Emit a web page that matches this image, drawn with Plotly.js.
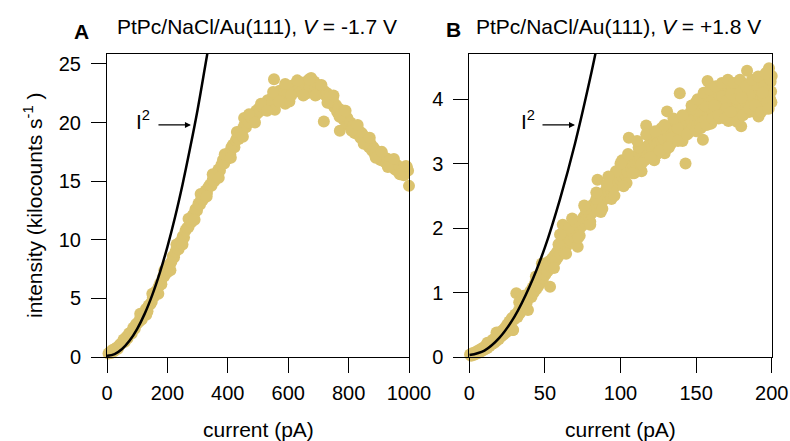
<!DOCTYPE html>
<html>
<head>
<meta charset="utf-8">
<script src="https://cdn.plot.ly/plotly-3.0.1.min.js"></script>
<style>html,body{margin:0;padding:0;background:#fff;}#plot{width:790px;height:441px;}</style>
</head>
<body>
<div id="plot"></div>
<script>
// Panel A: current (pA) vs intensity (kilocounts/s)
const currentA = [5,9,14,18,23,27,32,36,41,45,50,55,59,64,68,73,78,82,87,92,96,101,106,110,115,120,124,129,134,138,143,148,152,157,162,166,171,176,180,185,190,194,199,204,208,213,218,222,227,232,237,241,246,251,255,260,265,270,274,279,284,289,293,298,303,308,312,317,322,327,331,336,341,346,350,355,360,365,369,374,379,384,388,393,398,403,408,412,417,422,427,431,436,441,446,450,454,455,460,465,470,474,479,484,489,494,498,503,508,513,518,522,527,532,537,542,546,551,553,556,561,566,570,575,580,585,590,594,599,604,609,614,618,623,628,633,638,642,647,652,657,662,666,671,676,681,686,690,695,700,705,710,714,718,719,724,729,734,738,743,748,753,758,762,767,771,772,777,782,786,791,796,801,806,810,815,820,825,830,834,839,844,849,854,858,863,868,873,878,882,887,892,897,902,906,911,916,921,926,930,935,940,945,950,954,959,964,969,974,978,983,988,993,997,1000,1003,
110,130,150,170,190,210,230,250,270,290,310,330,350,370,390,410,430,450,470,490,510,530,550,570,590,610,630,650,670,690,710,730,750,770,790,810,830,850,870,890,910,930,950,970,990];
const intensityA = [0.3,0.4,0.35,0.6,0.5,0.7,0.8,0.7,1.0,1.1,1.2,1.5,1.3,1.7,1.6,2.0,2.1,2.0,2.5,2.4,2.8,2.9,3.0,3.3,3.2,3.7,3.6,4.1,3.9,4.4,4.5,4.7,5.1,5.2,5.6,5.5,6.0,6.3,6.2,6.8,6.9,7.3,7.2,7.8,7.9,8.1,8.6,8.5,9.0,9.3,9.2,9.8,9.9,10.3,10.2,10.8,11.0,11.1,11.6,11.5,12.1,12.2,12.6,12.5,13.1,13.0,13.5,13.4,14.0,14.2,14.0,14.5,14.7,14.6,15.1,15.0,15.6,15.5,16.0,15.9,16.4,16.8,16.5,17.1,16.9,17.4,17.3,17.9,18.1,17.9,18.5,18.7,18.6,19.2,19.0,19.5,20.4,19.8,19.6,20.2,20.0,20.5,20.4,20.7,20.5,21.0,20.8,21.2,21.0,21.4,21.3,21.6,21.1,21.9,21.5,22.0,21.7,22.3,23.7,21.1,22.4,22.1,22.7,22.2,22.8,22.5,21.6,23.0,22.6,21.8,23.1,22.7,23.2,22.8,23.3,22.9,23.1,22.6,23.4,22.9,23.2,22.5,23.6,23.0,23.8,22.7,23.5,23.0,22.4,23.2,22.8,23.0,22.5,20.1,22.7,22.3,22.5,22.0,22.2,21.6,21.9,21.3,21.5,20.9,21.2,19.3,20.6,20.9,20.3,21.0,20.0,20.4,19.8,20.0,19.5,19.7,19.1,19.4,19.0,19.3,18.7,19.1,18.5,18.8,18.2,18.5,17.9,18.2,17.6,17.9,17.3,17.6,17.0,17.2,16.8,17.1,16.7,17.0,16.5,16.9,16.4,16.8,16.2,16.6,16.0,16.4,15.8,16.2,15.6,16.0,15.5,16.0,16.2,15.9,14.6,13.8,
3.7,3.6,5.4,5.4,7.4,7.4,9.6,9.6,11.8,11.7,13.9,13.7,15.6,15.3,17.3,17.0,19.2,18.8,20.7,20.0,21.6,21.0,22.6,21.8,23.3,22.3,23.6,22.3,23.7,22.3,23.2,21.7,22.3,20.5,21.0,19.3,19.8,18.2,18.7,17.0,17.5,16.2,16.9,15.6,16.3];
// I^2 guide curve, panel A
const fitCurrentA = [0,25,50,75,100,125,150,175,200,225,250,275,300,325,345];
const fitIntensityA = [0.1,0.25,0.68,1.4,2.4,3.7,5.3,7.2,9.4,11.9,14.7,17.8,21.1,24.8,27.8];

// Panel B
const currentB = [0.5,1.2,2.0,2.8,3.5,4.3,5.1,5.8,6.6,7.4,
8.1,8.9,9.7,10.4,11.2,12.0,12.7,13.5,14.3,15.0,
15.8,16.6,17.3,18.1,18.9,19.6,20.4,21.2,21.9,22.7,
23.5,24.2,25.0,25.8,26.5,27.3,28.1,28.8,29.6,30.4,
31.1,31.9,32.7,33.4,34.2,35.0,35.7,36.5,37.3,38.0,
38.8,39.6,40.3,41.1,41.9,42.6,43.4,44.2,44.9,45.7,
46.5,47.2,48.0,48.8,49.5,50.3,51.1,51.8,52.6,53.4,
54.1,54.9,55.7,56.4,57.2,58.0,58.7,59.5,60.3,61.0,
61.8,62.5,63.3,64.1,64.8,65.6,66.4,67.1,67.9,68.7,
69.4,70.2,71.0,71.7,72.5,73.3,74.0,74.8,75.6,76.3,
77.1,77.9,78.6,79.4,80.2,80.9,81.7,82.5,83.2,84.0,
84.8,85.5,86.3,87.1,87.8,88.6,89.4,90.1,90.9,91.7,
92.4,93.2,94.0,94.7,95.5,96.3,97.0,97.8,98.6,99.3,
100.1,100.9,101.6,102.4,103.2,103.9,104.7,105.5,106.2,107.0,
107.8,108.5,109.3,110.1,110.8,111.6,112.4,113.1,113.9,114.7,
115.4,116.2,117.0,117.7,118.5,119.3,120.0,120.8,121.6,122.3,
123.1,123.9,124.6,125.4,126.2,126.9,127.7,128.5,129.2,130.0,
130.8,131.5,132.3,133.1,133.8,134.6,135.4,136.1,136.9,137.7,
138.4,139.2,140.0,140.7,141.5,142.3,143.0,143.8,144.6,145.3,
146.1,146.9,147.6,148.4,149.2,149.9,150.7,151.5,152.2,153.0,
153.8,154.5,155.3,156.1,156.8,157.6,158.4,159.1,159.9,160.7,
161.4,162.2,163.0,163.7,164.5,165.3,166.0,166.8,167.6,168.3,
169.1,169.9,170.6,171.4,172.2,172.9,173.7,174.5,175.2,176.0,
176.8,177.5,178.3,179.1,179.8,180.6,181.4,182.1,182.9,183.7,
184.4,185.2,186.0,186.7,187.5,188.3,189.0,189.8,190.6,191.3,
192.1,192.9,193.6,194.4,195.2,195.9,196.7,197.5,198.2,199.0,
199.3,199.6,200.0,199.8,
150.3,152.8,155.7,158.9,161.9,164.2,167.2,170.3,173.4,176.4,179.5,182.5,185.6,188.7,191.7,194.8,197.8,155.0,165.0,175.0,185.0,195.0,160.0,170.0,180.0,190.0,
101,104,109,112,116,119,124,127,131,134,138,141,145,148,
56,59,63,66,70,73,77,80,84,87,91,94,97,
60,64,68,72,76,80,84,88,92,96,100,
102,105,108,111,114,117,120,123,126,129,132,135,138,141,144,147,150,
151,153,155,157,159,161,163,165,167,169,171,173,175,177,179,181,183,185,187,189,191,193,195,197,199,198,196,194,
12,18,25,29,33,36,44,48];
const intensityB = [0.04,0.02,0.06,0.03,0.07,0.05,0.09,0.06,0.11,0.08,
0.13,0.10,0.15,0.12,0.18,0.14,0.21,0.17,0.24,0.20,
0.27,0.22,0.30,0.25,0.34,0.28,0.36,0.32,0.41,0.35,
0.45,0.38,0.50,0.43,0.55,0.47,0.60,0.42,0.58,0.66,
0.99,0.62,0.72,0.68,0.80,0.74,0.86,0.79,0.92,0.85,
0.73,0.96,1.02,0.93,1.08,1.00,1.14,1.05,1.20,1.10,
1.25,1.16,1.31,1.22,1.36,1.28,1.42,1.33,1.48,1.09,
1.40,1.53,1.45,1.58,1.50,1.63,1.55,1.68,1.60,1.74,
2.05,1.66,1.79,1.71,1.85,1.76,1.90,1.81,1.95,2.03,
1.86,1.98,1.92,1.71,2.08,2.00,2.12,2.04,2.17,2.09,
2.22,2.14,2.27,2.18,2.31,2.23,2.36,2.27,2.40,2.32,
2.75,2.44,2.36,2.49,2.41,2.54,2.45,2.58,2.50,2.62,
2.54,2.67,2.58,2.71,2.62,2.76,2.66,2.80,2.71,2.84,
2.75,2.88,2.79,2.93,2.83,2.97,2.87,3.40,3.01,2.92,
3.05,2.96,3.09,3.00,3.13,3.04,3.17,3.08,2.88,3.21,
3.12,3.25,3.59,3.16,3.29,3.20,3.33,3.24,3.37,3.05,
3.28,3.41,3.31,3.44,3.22,3.35,3.48,3.38,3.16,3.51,
3.81,3.42,3.55,3.30,3.46,3.59,3.50,3.38,3.63,3.54,
3.42,4.09,3.67,3.57,3.45,3.71,3.00,3.61,3.75,3.50,
3.79,3.66,3.55,3.84,3.70,3.95,3.60,3.88,3.74,3.63,
3.92,3.37,3.78,4.02,3.68,4.28,3.86,3.73,3.96,3.82,
4.08,3.70,3.93,4.15,3.79,4.01,3.88,4.20,3.75,3.97,
4.12,3.83,4.05,3.66,3.92,4.22,3.99,3.78,4.10,3.87,
4.16,3.95,3.72,4.04,3.58,4.25,3.90,4.08,3.81,4.44,
4.00,4.18,3.86,4.12,3.94,4.28,3.80,4.06,3.97,3.73,
4.20,3.91,4.14,4.02,4.30,3.85,4.09,4.24,4.48,4.00,
4.27,4.12,4.36,3.95,
3.82,3.95,3.90,4.05,3.90,4.10,4.05,3.98,4.08,4.00,4.12,3.96,4.06,3.92,4.15,3.88,4.05,3.65,3.70,3.72,3.80,3.95,3.62,3.85,4.02,4.22,
3.05,2.70,2.85,3.25,3.05,3.45,3.15,3.55,3.25,3.40,3.55,3.35,3.48,3.85,
1.38,1.75,1.62,2.00,2.10,1.88,2.30,2.10,2.45,2.25,2.68,2.45,2.88,
1.90,1.60,2.15,1.85,2.35,2.05,2.55,2.30,2.80,2.50,3.00,
2.65,3.15,2.85,3.35,3.00,3.45,3.10,3.50,3.20,3.60,3.25,3.70,3.35,3.75,3.45,3.90,3.50,
4.00,3.55,4.10,3.60,4.15,3.70,4.20,3.75,4.25,3.70,4.30,3.80,4.25,3.65,4.30,3.75,4.20,3.85,4.30,3.90,4.35,3.80,4.20,3.95,4.30,3.85,4.40,4.10,
0.22,0.38,0.40,0.42,0.85,0.95,1.25,1.45];
// I^2 guide curve, panel B
const fitCurrentB = [0,10,20,30,40,50,60,70,80,86];
const fitIntensityB = [0.03,0.10,0.30,0.63,1.10,1.70,2.45,3.32,4.33,5.0];

const xTicksA = [0,200,400,600,800,1000];
const yTicksA = [0,5,10,15,20,25];
const xTicksB = [0,50,100,150,200];
const yTicksB = [0,1,2,3,4];

const dotColor = '#DBC36F';
const FONT = 'Liberation Sans, Arial, sans-serif';

const traces = [
  {x: currentA, y: intensityA, xaxis:'x', yaxis:'y', mode:'markers', type:'scatter',
   marker:{color:dotColor, size:12, line:{width:0}}, cliponaxis:false, hoverinfo:'none'},
  {x: fitCurrentA, y: fitIntensityA, xaxis:'x', yaxis:'y', mode:'lines', type:'scatter',
   line:{color:'#000', width:2.5, shape:'spline'}, cliponaxis:true, hoverinfo:'none'},
  {x: currentB, y: intensityB, xaxis:'x2', yaxis:'y2', mode:'markers', type:'scatter',
   marker:{color:dotColor, size:12, line:{width:0}}, cliponaxis:false, hoverinfo:'none'},
  {x: fitCurrentB, y: fitIntensityB, xaxis:'x2', yaxis:'y2', mode:'lines', type:'scatter',
   line:{color:'#000', width:2.5, shape:'spline'}, cliponaxis:true, hoverinfo:'none'}
];

function axisBase(extra){
  return Object.assign({
    showline:true, linecolor:'#000', linewidth:1, mirror:true,
    ticks:'outside', ticklen:15, tickwidth:1, tickcolor:'#000',
    showgrid:false, zeroline:false, fixedrange:true,
    tickfont:{family:FONT, size:20, color:'#000'}, tickmode:'array'
  }, extra);
}

const W = 790, H = 441;
const px = v => v / W;
const py = v => 1 - v / H;

const layout = {
  width: W, height: H,
  margin:{l:0, r:0, t:0, b:0},
  paper_bgcolor:'#fff', plot_bgcolor:'#fff',
  showlegend:false,
  font:{family:FONT, color:'#000'},
  xaxis: axisBase({domain:[px(107), px(409)], range:[0,1000], tickvals:xTicksA, anchor:'y', ticklabelstandoff:3}),
  yaxis: axisBase({domain:[py(357), py(54)], range:[0,25.85], tickvals:yTicksA, anchor:'x', ticklabelstandoff:6}),
  xaxis2: axisBase({domain:[px(469.3), px(771.7)], range:[0,200], tickvals:xTicksB, anchor:'y2', ticklabelstandoff:3}),
  yaxis2: axisBase({domain:[py(357), py(54)], range:[0,4.70], tickvals:yTicksB, anchor:'x2', ticklabelstandoff:6}),
  annotations: [
    {text:'<b>A</b>', xref:'paper', yref:'paper', x:px(81), y:py(31), showarrow:false, font:{size:21}, xanchor:'center', yanchor:'middle'},
    {text:'<b>B</b>', xref:'paper', yref:'paper', x:px(454), y:py(30), showarrow:false, font:{size:21}, xanchor:'center', yanchor:'middle'},
    {text:'PtPc/NaCl/Au(111), <i>V</i> = -1.7 V', xref:'paper', yref:'paper', x:px(257), y:py(27), showarrow:false, font:{size:21}, xanchor:'center', yanchor:'middle'},
    {text:'PtPc/NaCl/Au(111), <i>V</i> = +1.8 V', xref:'paper', yref:'paper', x:px(618), y:py(27), showarrow:false, font:{size:21}, xanchor:'center', yanchor:'middle'},
    {text:'current (pA)', xref:'paper', yref:'paper', x:px(258), y:py(429), showarrow:false, font:{size:21}, xanchor:'center', yanchor:'middle'},
    {text:'current (pA)', xref:'paper', yref:'paper', x:px(620), y:py(429), showarrow:false, font:{size:21}, xanchor:'center', yanchor:'middle'},
    {text:'intensity (kilocounts s<sup>-1</sup> )', xref:'paper', yref:'paper', x:px(33), y:py(206), showarrow:false, font:{size:21}, textangle:-90, xanchor:'center', yanchor:'middle'},
    {text:'I<sup>2</sup>', xref:'x', yref:'y', x:120, y:20.2, showarrow:false, font:{size:21}, xanchor:'center', yanchor:'middle'},
    {text:'', xref:'x', yref:'y', x:278, y:19.8, ax:-34, ay:0, showarrow:true, arrowhead:2, arrowsize:1, arrowwidth:1.2, arrowcolor:'#000'},
    {text:'I<sup>2</sup>', xref:'x2', yref:'y2', x:39, y:3.68, showarrow:false, font:{size:21}, xanchor:'center', yanchor:'middle'},
    {text:'', xref:'x2', yref:'y2', x:69.9, y:3.6, ax:-34, ay:0, showarrow:true, arrowhead:2, arrowsize:1, arrowwidth:1.2, arrowcolor:'#000'}
  ]
};

Plotly.newPlot('plot', traces, layout, {staticPlot:true, displayModeBar:false});
</script>
</body>
</html>
